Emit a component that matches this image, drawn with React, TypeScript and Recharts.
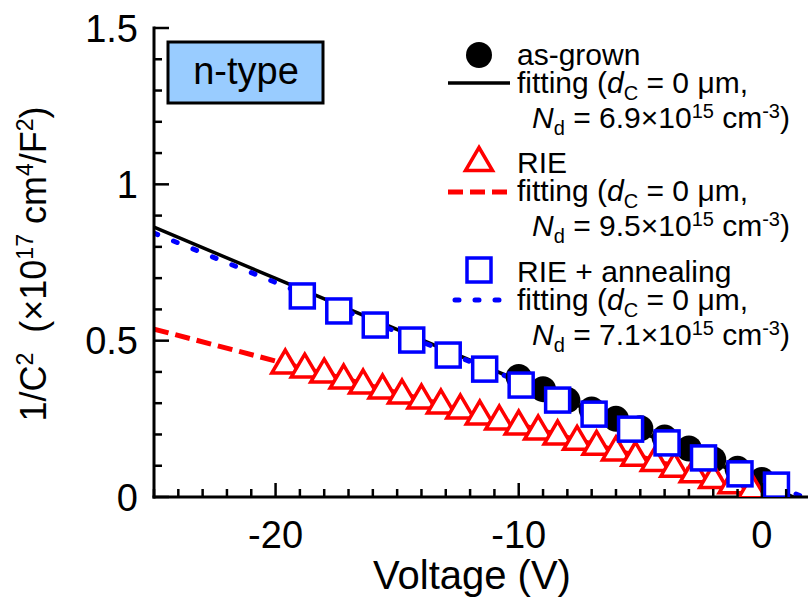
import React from "react";
import { ComposedChart, XAxis, YAxis, Line, Scatter } from "recharts";

const FONT = "'Liberation Sans', Arial, Helvetica, sans-serif";

// measured points: voltage (V) and 1/C^2 (x1e17 cm^4/F^2)
const asGrownV = [-10, -9, -8, -7, -6, -5, -4, -3, -2, -1, 0];
const asGrownY = [0.384, 0.345, 0.31, 0.28, 0.25, 0.22, 0.19, 0.155, 0.12, 0.09, 0.054];

const rieV = [
  -19.6, -18.8, -18.0, -17.2, -16.4, -15.6, -14.8, -14.0, -13.2, -12.4, -11.6, -10.8, -10.0,
  -9.2, -8.4, -7.6, -6.8, -6.0, -5.2, -4.4, -3.6, -2.8, -2.0, -1.2, -0.4,
];
const rieY = [
  0.43, 0.417, 0.401, 0.382, 0.366, 0.35, 0.334, 0.318, 0.302, 0.286, 0.267, 0.251, 0.235,
  0.219, 0.203, 0.186, 0.17, 0.152, 0.135, 0.118, 0.1, 0.082, 0.064, 0.047, 0.031,
];

const annealV = [-18.9, -17.4, -15.9, -14.4, -12.9, -11.4, -9.9, -8.4, -6.9, -5.4, -3.9, -2.4, -0.9, 0.6];
const annealY = [0.643, 0.595, 0.55, 0.502, 0.454, 0.409, 0.358, 0.31, 0.265, 0.217, 0.173, 0.125, 0.074, 0.038];

// fitted lines
const asGrownFitV = [-25, -20, -10, 0, 1.3];
const asGrownFitY = [0.863, 0.699, 0.372, 0.045, 0];
const rieFitV = [-25, -20, -10, 0, 1.2];
const rieFitY = [0.537, 0.435, 0.232, 0.025, 0];
const annealFitV = [-25, -20, -10, 0, 1.7];
const annealFitY = [0.844, 0.686, 0.37, 0.054, 0];

const xTicks = [
  -25, -24, -23, -22, -21, -20, -19, -18, -17, -16, -15, -14, -13, -12, -11, -10,
  -9, -8, -7, -6, -5, -4, -3, -2, -1, 0, 1, 2,
];
const yTicks = [0, 0.1, 0.2, 0.3, 0.4, 0.5, 0.6, 0.7, 0.8, 0.9, 1, 1.1, 1.2, 1.3, 1.4, 1.5];

const ndValues = ["6.9", "9.5", "7.1"];

const toPoints = (vs: number[], ys: number[]) => vs.map((v, i) => ({ v, y: ys[i] }));

const asGrown = toPoints(asGrownV, asGrownY);
const rie = toPoints(rieV, rieY);
const anneal = toPoints(annealV, annealY);
const asGrownFit = toPoints(asGrownFitV, asGrownFitY);
const rieFit = toPoints(rieFitV, rieFitY);
const annealFit = toPoints(annealFitV, annealFitY);

const RED = "#ff0000";
const BLUE = "#0000ff";
const AXIS = { stroke: "#000", strokeWidth: 3, strokeLinecap: "square" as const };

const isMajorX = (v: number) => v % 10 === 0;
const isMajorY = (v: number) => Math.round(v * 10) % 5 === 0;

// ticks point into the plot, major ones are longer
const BottomTick = (p: any) => {
  const v = p.payload.value;
  const major = isMajorX(v);
  return (
    <g>
      <line x1={p.x} y1={p.y} x2={p.x} y2={p.y - (major ? 14 : 8)} stroke="#000" strokeWidth={2.5} />
      {major && (
        <text x={p.x} y={p.y + 51} textAnchor="middle" fontSize={38} fontFamily={FONT} fill="#000">
          {String(v)}
        </text>
      )}
    </g>
  );
};

const TopTick = (p: any) => {
  const major = isMajorX(p.payload.value);
  return <line x1={p.x} y1={p.y} x2={p.x} y2={p.y + (major ? 14 : 8)} stroke="#000" strokeWidth={2.5} />;
};

const LeftTick = (p: any) => {
  const v = p.payload.value;
  const major = isMajorY(v);
  return (
    <g>
      <line x1={p.x} y1={p.y} x2={p.x + (major ? 15 : 8)} y2={p.y} stroke="#000" strokeWidth={2.5} />
      {major && (
        <text x={p.x - 16} y={p.y} dy="0.36em" textAnchor="end" fontSize={38} fontFamily={FONT} fill="#000">
          {String(v)}
        </text>
      )}
    </g>
  );
};

const RightTick = (p: any) => {
  const major = isMajorY(p.payload.value);
  return <line x1={p.x} y1={p.y} x2={p.x - (major ? 15 : 8)} y2={p.y} stroke="#000" strokeWidth={2.5} />;
};

const XTitle = () => (
  <text x={472} y={589} textAnchor="middle" fontSize={40} fontFamily={FONT} fill="#000">
    Voltage (V)
  </text>
);

const YTitle = () => (
  <text
    x={46}
    y={264}
    transform="rotate(-90 46 264)"
    textAnchor="middle"
    fontSize={36}
    fontFamily={FONT}
    fill="#000"
    style={{ whiteSpace: "pre" }}
  >
    1/C<tspan fontSize={23} dy={-13}>2</tspan>
    <tspan dy={13}>{"  (×10"}</tspan>
    <tspan fontSize={23} dy={-13}>17</tspan>
    <tspan dy={13}>{" cm"}</tspan>
    <tspan fontSize={23} dy={-13}>4</tspan>
    <tspan dy={13}>/F</tspan>
    <tspan fontSize={23} dy={-13}>2</tspan>
    <tspan dy={13}>)</tspan>
  </text>
);

const CircleMark = (p: any) => <circle cx={p.cx} cy={p.cy} r={13} fill="#000" />;

const TriangleMark = (p: any) => (
  <path
    d={`M${p.cx} ${p.cy - 12.5}L${p.cx + 13.5} ${p.cy + 10.5}L${p.cx - 13.5} ${p.cy + 10.5}Z`}
    fill="#fff"
    stroke={RED}
    strokeWidth={3.5}
  />
);

const SquareMark = (p: any) => (
  <rect x={p.cx - 12} y={p.cy - 12} width={24} height={24} fill="#fff" stroke={BLUE} strokeWidth={3.5} />
);

const FitText = ({ y }: { y: number }) => (
  <text x={517} y={y} fontSize={30}>
    fitting (<tspan fontStyle="italic">d</tspan>
    <tspan fontSize={20} dy={7}>C</tspan>
    <tspan dy={-7}>{" = 0 μm,"}</tspan>
  </text>
);

const NdText = ({ y, nd }: { y: number; nd: string }) => (
  <text x={790} y={y} fontSize={30} textAnchor="end">
    <tspan fontStyle="italic">N</tspan>
    <tspan fontSize={20} dy={7}>d</tspan>
    <tspan dy={-7}>{` = ${nd}×10`}</tspan>
    <tspan fontSize={20} dy={-10}>15</tspan>
    <tspan dy={10}>{" cm"}</tspan>
    <tspan fontSize={20} dy={-10}>-3</tspan>
    <tspan dy={10}>)</tspan>
  </text>
);

// legend block and sample label drawn over the plot
const KeyPanel = () => {
  const rows = [65, 173, 282];
  const names = ["as-grown", "RIE", "RIE + annealing"];
  return (
    <svg
      width={808}
      height={600}
      style={{ position: "absolute", left: 0, top: 0, pointerEvents: "none" }}
      fontFamily={FONT}
      fill="#000"
    >
      <rect x={168} y={42} width={155} height={61} fill="#99ccff" stroke="#000" strokeWidth={3} />
      <text x={246} y={84} fontSize={38} textAnchor="middle">
        n-type
      </text>

      <circle cx={479} cy={rows[0] - 10} r={13} fill="#000" />
      <TriangleMark cx={479} cy={rows[1] - 13} />
      <SquareMark cx={479} cy={rows[2] - 12} />

      <line x1={448} y1={rows[0] + 18} x2={510} y2={rows[0] + 18} stroke="#000" strokeWidth={3.5} />
      <line
        x1={448}
        y1={rows[1] + 19}
        x2={510}
        y2={rows[1] + 19}
        stroke={RED}
        strokeWidth={5}
        strokeDasharray="15 7"
      />
      <line
        x1={455}
        y1={rows[2] + 18}
        x2={510}
        y2={rows[2] + 18}
        stroke={BLUE}
        strokeWidth={5}
        strokeLinecap="round"
        strokeDasharray="4 16"
      />

      {rows.map((y, i) => (
        <g key={names[i]}>
          <text x={517} y={y} fontSize={30}>
            {names[i]}
          </text>
          <FitText y={y + 28} />
          <NdText y={y + 63} nd={ndValues[i]} />
        </g>
      ))}
    </svg>
  );
};

export default function App() {
  return (
    <div
      style={{
        position: "absolute",
        left: 0,
        top: 0,
        width: 808,
        height: 600,
        overflow: "hidden",
        background: "#fff",
      }}
    >
      <ComposedChart width={820} height={600} margin={{ top: 28, right: 9.5, bottom: 0, left: 0 }}>
        <XAxis
          xAxisId="b"
          type="number"
          dataKey="v"
          domain={[-25, 2]}
          allowDataOverflow
          ticks={xTicks}
          interval={0}
          tickSize={0}
          tickMargin={0}
          tickLine={false}
          tick={<BottomTick />}
          axisLine={AXIS}
          height={103}
          label={<XTitle />}
        />
        <XAxis
          xAxisId="t"
          orientation="top"
          type="number"
          dataKey="v"
          domain={[-25, 2]}
          allowDataOverflow
          ticks={xTicks}
          interval={0}
          tickSize={0}
          tickMargin={0}
          tickLine={false}
          tick={<TopTick />}
          axisLine={AXIS}
          height={0}
        />
        <YAxis
          yAxisId="l"
          type="number"
          dataKey="y"
          domain={[0, 1.5]}
          allowDataOverflow
          ticks={yTicks}
          interval={0}
          tickSize={0}
          tickMargin={0}
          tickLine={false}
          tick={<LeftTick />}
          axisLine={AXIS}
          width={154}
          label={<YTitle />}
        />
        <YAxis
          yAxisId="r"
          orientation="right"
          type="number"
          dataKey="y"
          domain={[0, 1.5]}
          allowDataOverflow
          ticks={yTicks}
          interval={0}
          tickSize={0}
          tickMargin={0}
          tickLine={false}
          tick={<RightTick />}
          axisLine={AXIS}
          width={0}
        />

        <Scatter
          xAxisId="b"
          yAxisId="l"
          data={asGrown}
          dataKey="y"
          shape={<CircleMark />}
          isAnimationActive={false}
        />
        <Line
          xAxisId="b"
          yAxisId="l"
          data={asGrownFit}
          dataKey="y"
          type="linear"
          stroke="#000"
          strokeWidth={3.5}
          dot={false}
          activeDot={false}
          isAnimationActive={false}
        />
        <Line
          xAxisId="b"
          yAxisId="l"
          data={rieFit}
          dataKey="y"
          type="linear"
          stroke={RED}
          strokeWidth={5}
          strokeDasharray="15 7"
          dot={false}
          activeDot={false}
          isAnimationActive={false}
        />
        <Scatter
          xAxisId="b"
          yAxisId="l"
          data={rie}
          dataKey="y"
          shape={<TriangleMark />}
          isAnimationActive={false}
        />
        <Line
          xAxisId="b"
          yAxisId="l"
          data={annealFit}
          dataKey="y"
          type="linear"
          stroke={BLUE}
          strokeWidth={5}
          strokeLinecap="round"
          strokeDasharray="4 17"
          dot={false}
          activeDot={false}
          isAnimationActive={false}
        />
        <Scatter
          xAxisId="b"
          yAxisId="l"
          data={anneal}
          dataKey="y"
          shape={<SquareMark />}
          isAnimationActive={false}
        />
      </ComposedChart>
      <KeyPanel />
    </div>
  );
}
